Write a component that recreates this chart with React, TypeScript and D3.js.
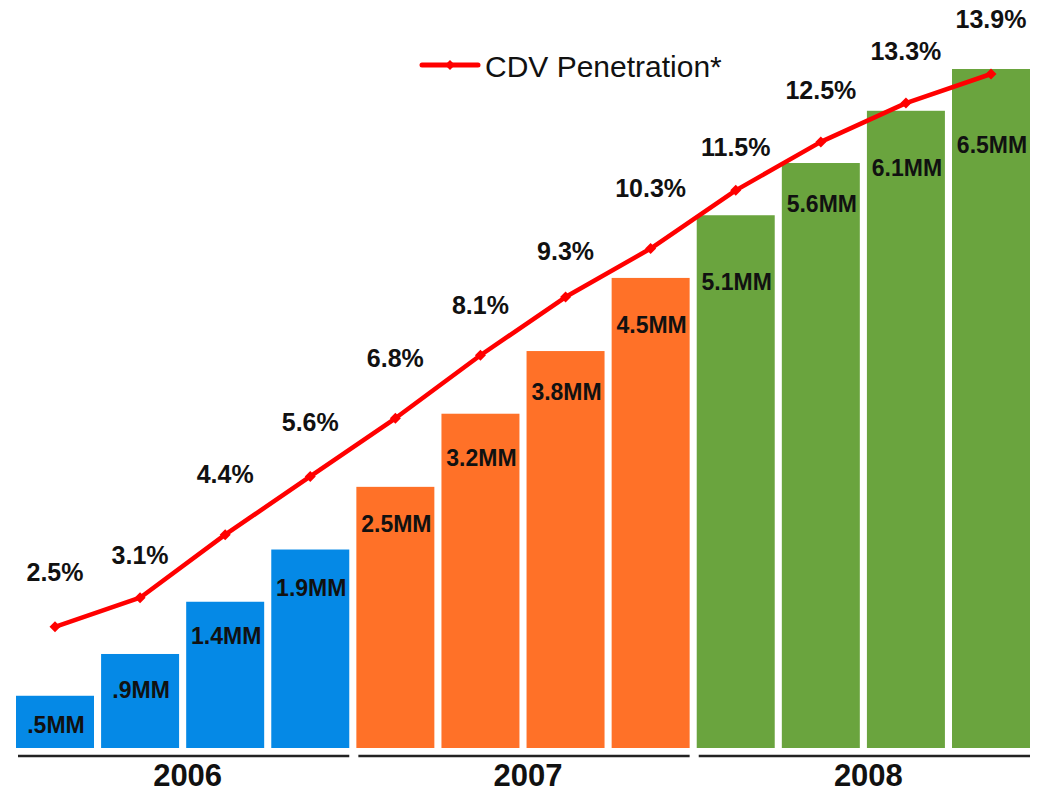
import React from 'react';
import * as d3 from 'd3';

// ---- data ----
const quarters = ['Q1 06', 'Q2 06', 'Q3 06', 'Q4 06', 'Q1 07', 'Q2 07', 'Q3 07', 'Q4 07', 'Q1 08', 'Q2 08', 'Q3 08', 'Q4 08'];
const quarterYear = ['2006', '2006', '2006', '2006', '2007', '2007', '2007', '2007', '2008', '2008', '2008', '2008'];
const years = ['2006', '2007', '2008'];
const subscribers = [0.5, 0.9, 1.4, 1.9, 2.5, 3.2, 3.8, 4.5, 5.1, 5.6, 6.1, 6.5];
const subscriberLabels = ['.5MM', '.9MM', '1.4MM', '1.9MM', '2.5MM', '3.2MM', '3.8MM', '4.5MM', '5.1MM', '5.6MM', '6.1MM', '6.5MM'];
const penetration = [2.5, 3.1, 4.4, 5.6, 6.8, 8.1, 9.3, 10.3, 11.5, 12.5, 13.3, 13.9];
const penetrationLabels = ['2.5%', '3.1%', '4.4%', '5.6%', '6.8%', '8.1%', '9.3%', '10.3%', '11.5%', '12.5%', '13.3%', '13.9%'];
const seriesName = 'CDV Penetration*';

// ---- styles / layout ----
const yearColors: Record<string, string> = { '2006': '#0589e6', '2007': '#ff7128', '2008': '#6aa43e' };
// baseline drop of each bar label below its bar top (px), as placed in the original
const barLabelDrop = [37, 44, 42, 46, 45, 52, 49, 55, 75, 49, 65, 84];
// baseline rise of each percentage label above its marker (px)
const pctLabelRise = [46, 34, 52, 45, 51, 41, 37, 52, 34, 43, 43, 46];
const FONT = 'Arial, "Liberation Sans", Helvetica, sans-serif';
const W = 1043;
const H = 796;

function diamond(cx: number, cy: number, r: number) {
  return `M${cx},${cy - r}L${cx + r},${cy}L${cx},${cy + r}L${cx - r},${cy}Z`;
}

export default function App() {
  const x = d3.scaleBand<string>().domain(quarters).range([12.45, 1033.55]).paddingInner(0.0834).paddingOuter(0.0417);
  const yBar = d3.scaleLinear().domain([0, 6.5]).range([748, 69]);
  const yLine = d3.scaleLinear().domain([0, 13.9]).range([748, 74]);
  const bw = x.bandwidth();
  const cx = (q: string) => (x(q) as number) + bw / 2;

  const linePath = d3.line<number>()
    .x((_, i) => cx(quarters[i]))
    .y((d) => yLine(d))(penetration) as string;

  return (
    <svg width={W} height={H} style={{ position: 'absolute', left: 0, top: 0, display: 'block', background: '#fff' }}>
      {/* bars */}
      {subscribers.map((v, i) => (
        <rect key={'b' + i} x={x(quarters[i])} y={yBar(v)} width={bw} height={yBar(0) - yBar(v)} fill={yearColors[quarterYear[i]]} />
      ))}
      {/* bar labels */}
      {subscribers.map((v, i) => (
        <text key={'bl' + i} x={cx(quarters[i]) + 1} y={yBar(v) + barLabelDrop[i]} textAnchor="middle" fontFamily={FONT} fontWeight="bold" fontSize={23} fill="#111">
          {subscriberLabels[i]}
        </text>
      ))}
      {/* year group lines and labels */}
      {years.map((yr) => {
        const qs = quarters.filter((_, i) => quarterYear[i] === yr);
        const x0 = (x(qs[0]) as number) + 2;
        const x1 = (x(qs[qs.length - 1]) as number) + bw;
        return (
          <g key={yr}>
            <line x1={x0} x2={x1} y1={756} y2={756} stroke="#222" strokeWidth={2.5} />
            <text x={(x0 + x1) / 2 + 4} y={786} textAnchor="middle" fontFamily={FONT} fontWeight="bold" fontSize={31} fill="#111">
              {yr}
            </text>
          </g>
        );
      })}
      {/* line */}
      <path d={linePath} fill="none" stroke="#ff0000" strokeWidth={4.5} strokeLinejoin="round" />
      {penetration.map((v, i) => (
        <path key={'m' + i} d={diamond(cx(quarters[i]), yLine(v), 5.5)} fill="#ff0000" />
      ))}
      {penetration.map((v, i) => (
        <text key={'pl' + i} x={cx(quarters[i])} y={yLine(v) - pctLabelRise[i]} textAnchor="middle" fontFamily={FONT} fontWeight="bold" fontSize={25} fill="#111">
          {penetrationLabels[i]}
        </text>
      ))}
      {/* legend */}
      <line x1={422} x2={478} y1={65} y2={65} stroke="#ff0000" strokeWidth={5} strokeLinecap="round" />
      <path d={diamond(450, 65, 5)} fill="#ff0000" />
      <text x={485} y={77} fontFamily={FONT} fontSize={30} fill="#111">{seriesName}</text>
    </svg>
  );
}
